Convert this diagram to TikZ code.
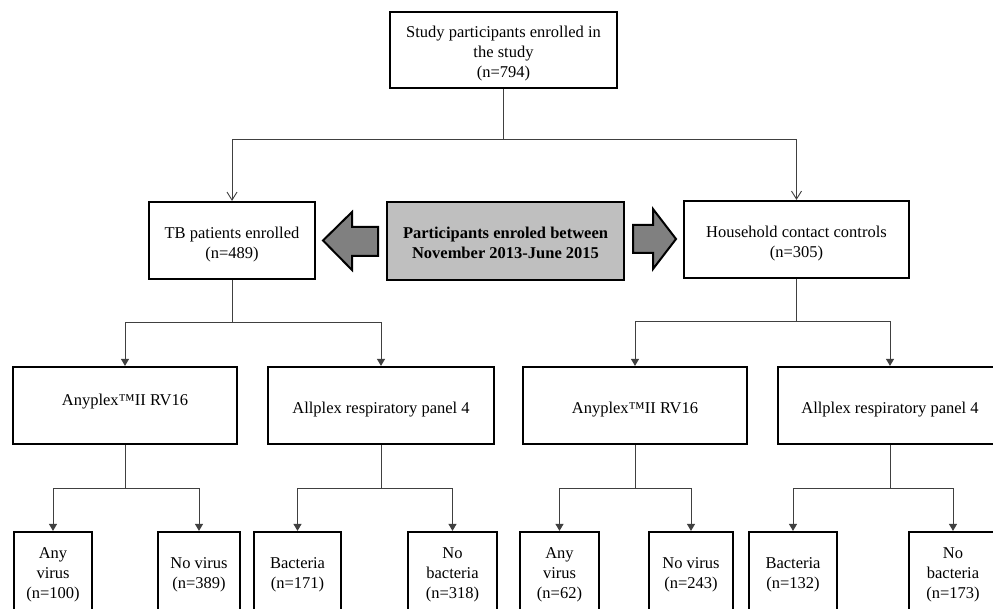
\documentclass[tikz,border=0pt]{standalone}
\usepackage{fontspec}
\setmainfont{Liberation Serif}
\usetikzlibrary{arrows.meta}
\newcommand{\tx}[2][-4pt]{\raisebox{#1}[\height][\depth]{\begin{tabular}{@{}c@{}}#2\end{tabular}}}
\begin{document}
\begin{tikzpicture}[x=1pt,y=-1pt,
  box/.style={draw=black,line width=2.2pt,fill=white,align=center,inner sep=1pt,
    font=\fontsize{16.5}{20}\selectfont},
  midbox/.style={box,fill=black!25,font=\fontsize{16.5}{20}\selectfont\bfseries},
  leaf/.style={box,minimum height=80pt},
  conn/.style={draw=black!75,line width=1pt},
  openarr/.style={conn,-{Straight Barb[length=8pt,width=10pt,line width=0.9pt]}},
  triarr/.style={conn,-{Triangle[length=7pt,width=8pt]}},
  fatarrow/.style={draw=black,line width=2pt,fill=black!50,line join=miter}
]
\useasboundingbox (0,0) rectangle (993,609);
\clip (0,0) rectangle (993,609);
\fill[white] (0,0) rectangle (993,609);

% level 0
\node[box,minimum width=227pt,minimum height=76pt] (top) at (503.5,50)
  {\tx{Study participants enrolled in\\the study\\(n=794)}};

% level 1
\node[box,minimum width=166pt,minimum height=77pt] (tb) at (232,240.5)
  {\tx{TB patients enrolled\\(n=489)}};
\node[midbox,minimum width=237pt,minimum height=78pt] (mid) at (505.5,241)
  {\tx{Participants enroled between\\November 2013-June 2015}};
\node[box,minimum width=225pt,minimum height=77pt] (hh) at (796.5,239.5)
  {\tx{Household contact controls\\(n=305)}};

% fat arrows
\draw[fatarrow] (378,227) -- (352,227) -- (352,212) -- (323,240.5) -- (352,270)
  -- (352,256) -- (378,256) -- cycle;
\draw[fatarrow] (633,225) -- (653,225) -- (653,209) -- (676,239) -- (653,269)
  -- (653,253) -- (633,253) -- cycle;

% level 2
\node[box,minimum width=224pt,minimum height=77pt] (any1) at (125,405.5)
  {\tx[4.5pt]{Anyplex™II RV16}};
\node[box,minimum width=226pt,minimum height=77pt] (all1) at (381,405.5)
  {\tx{Allplex respiratory panel 4}};
\node[box,minimum width=224pt,minimum height=77pt] (any2) at (635,405.5)
  {\tx{Anyplex™II RV16}};
\node[box,minimum width=224pt,minimum height=77pt] (all2) at (890,405.5)
  {\tx{Allplex respiratory panel 4}};

% level 3
\node[leaf,minimum width=78pt] (b1) at (53,572) {\tx[-2pt]{Any\\virus\\(n=100)}};
\node[leaf,minimum width=82pt] (b2) at (199,572) {\tx[-2pt]{No virus\\(n=389)}};
\node[leaf,minimum width=87pt] (b3) at (297.5,572) {\tx[-2pt]{Bacteria\\(n=171)}};
\node[leaf,minimum width=89pt] (b4) at (452.5,572) {\tx[-2pt]{No\\bacteria\\(n=318)}};
\node[leaf,minimum width=79pt] (b5) at (559.5,572) {\tx[-2pt]{Any\\virus\\(n=62)}};
\node[leaf,minimum width=84pt] (b6) at (691,572) {\tx[-2pt]{No virus\\(n=243)}};
\node[leaf,minimum width=88pt] (b7) at (793,572) {\tx[-2pt]{Bacteria\\(n=132)}};
\node[leaf,minimum width=88pt] (b8) at (953,572) {\tx[-2pt]{No\\bacteria\\(n=173)}};

% junctions
\coordinate (j1) at (503.5,140);
\coordinate (j2) at (232,323);
\coordinate (j3) at (796.5,322);
\coordinate (j4) at (125,488);
\coordinate (j5) at (381,488);
\coordinate (j6) at (635,488);
\coordinate (j7) at (890,488);

% connectors
\draw[conn] (top.south) -- (j1);
\draw[openarr] (j1) -| (tb.north);
\draw[openarr] (j1) -| (hh.north);

\draw[conn] (tb.south) -- (j2);
\draw[triarr] (j2) -| (any1.north);
\draw[triarr] (j2) -| (all1.north);
\draw[conn] (hh.south) -- (j3);
\draw[triarr] (j3) -| (any2.north);
\draw[triarr] (j3) -| (all2.north);

\draw[conn] (any1.south) -- (j4);
\draw[triarr] (j4) -| (b1.north);
\draw[triarr] (j4) -| (b2.north);
\draw[conn] (all1.south) -- (j5);
\draw[triarr] (j5) -| (b3.north);
\draw[triarr] (j5) -| (b4.north);
\draw[conn] (any2.south) -- (j6);
\draw[triarr] (j6) -| (b5.north);
\draw[triarr] (j6) -| (b6.north);
\draw[conn] (all2.south) -- (j7);
\draw[triarr] (j7) -| (b7.north);
\draw[triarr] (j7) -| (b8.north);
\end{tikzpicture}
\end{document}
